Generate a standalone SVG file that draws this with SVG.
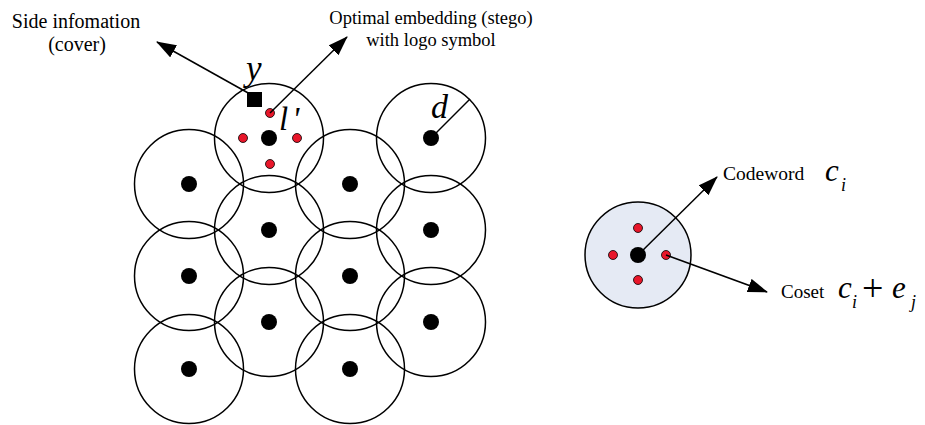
<svg xmlns="http://www.w3.org/2000/svg" width="925" height="425" viewBox="0 0 925 425">
  <style>
    .cell { fill: none; stroke: #000; stroke-width: 1.5; }
    .code { fill: #000; }
    .coset { fill: #e8162a; stroke: #000; stroke-width: 0.8; }
    .lbl { font-family: "Liberation Serif", "Times New Roman", serif; fill: #000; }
    .math { font-family: "Liberation Serif", "Times New Roman", serif; font-style: italic; fill: #000; }
    .up { font-family: "Liberation Serif", "Times New Roman", serif; fill: #000; }
    .conn { stroke: #000; stroke-width: 1.5; fill: none; }
  </style>
  <defs>
    <marker id="head" markerUnits="userSpaceOnUse" markerWidth="20" markerHeight="14" refX="19" refY="7" orient="auto">
      <path d="M0,0 L20,7 L0,14 z" fill="#000"/>
    </marker>
    <circle id="dot" r="8" class="code"/>
    <circle id="red" r="4.5" class="coset"/>
  </defs>
  <rect width="925" height="425" fill="#fff"/>

  <!-- lattice of decoding spheres -->
  <g id="c-0-0"><circle class="cell" cx="189" cy="184" r="54.5"/><use href="#dot" x="189" y="184"/></g>
  <g id="c-0-1"><circle class="cell" cx="189" cy="276" r="54.5"/><use href="#dot" x="189" y="276"/></g>
  <g id="c-0-2"><circle class="cell" cx="189" cy="369" r="54.5"/><use href="#dot" x="189" y="369"/></g>
  <g id="c-1-0">
    <circle class="cell" cx="269" cy="138" r="54.5"/>
    <use href="#dot" x="269" y="138"/>
    <use href="#red" x="270" y="113"/>
    <use href="#red" x="243" y="138"/>
    <use href="#red" x="297" y="138"/>
    <use href="#red" x="270" y="164"/>
  </g>
  <g id="c-1-1"><circle class="cell" cx="269" cy="230" r="54.5"/><use href="#dot" x="269" y="230"/></g>
  <g id="c-1-2"><circle class="cell" cx="269" cy="322" r="54.5"/><use href="#dot" x="269" y="322"/></g>
  <g id="c-2-0"><circle class="cell" cx="350" cy="184" r="54.5"/><use href="#dot" x="350" y="184"/></g>
  <g id="c-2-1"><circle class="cell" cx="350" cy="276" r="54.5"/><use href="#dot" x="350" y="276"/></g>
  <g id="c-2-2"><circle class="cell" cx="350" cy="369" r="54.5"/><use href="#dot" x="350" y="369"/></g>
  <g id="c-3-0"><circle class="cell" cx="431" cy="138" r="54.5"/><use href="#dot" x="431" y="138"/></g>
  <g id="c-3-1"><circle class="cell" cx="431" cy="230" r="54.5"/><use href="#dot" x="431" y="230"/></g>
  <g id="c-3-2"><circle class="cell" cx="431" cy="322" r="54.5"/><use href="#dot" x="431" y="322"/></g>

  <!-- cover point and symbols -->
  <g id="cover">
    <rect x="247" y="92" width="15" height="15" fill="#000"/>
    <text class="math" x="246" y="80" font-size="35">y</text>
  </g>
  <text id="lprime" class="math" x="279" y="130" font-size="33">l<tspan dx="4">'</tspan></text>
  <g id="radius">
    <line class="conn" x1="431" y1="138" x2="470" y2="99"/>
    <text class="math" x="431" y="118" font-size="34">d</text>
  </g>

  <!-- single coset sphere -->
  <g id="coset-sphere">
    <circle cx="638" cy="255" r="53" fill="#e5eaf4" stroke="#000" stroke-width="1.5"/>
    <use href="#dot" x="638" y="255"/>
    <use href="#red" x="638" y="228"/>
    <use href="#red" x="613" y="255"/>
    <use href="#red" x="666" y="255"/>
    <use href="#red" x="638" y="280"/>
  </g>

  <!-- connectors -->
  <g id="connectors">
    <line class="conn" x1="250" y1="94" x2="157" y2="42" marker-end="url(#head)"/>
    <line class="conn" x1="270" y1="113" x2="347" y2="37" marker-end="url(#head)"/>
    <line class="conn" x1="638" y1="255" x2="717" y2="177" marker-end="url(#head)"/>
    <line class="conn" x1="666" y1="255" x2="767" y2="292" marker-end="url(#head)"/>
  </g>

  <!-- labels -->
  <g id="label-side">
    <text class="lbl" x="76" y="28" font-size="20" text-anchor="middle">Side infomation</text>
    <text class="lbl" x="77" y="51" font-size="20" text-anchor="middle">(cover)</text>
  </g>
  <g id="label-stego">
    <text class="lbl" x="431" y="24" font-size="18.5" text-anchor="middle">Optimal embedding (stego)</text>
    <text class="lbl" x="431" y="46" font-size="18.5" text-anchor="middle">with logo symbol</text>
  </g>
  <g id="label-codeword">
    <text class="lbl" x="723" y="180" font-size="19.5">Codeword</text>
    <text class="math" x="825" y="181" font-size="31">c</text>
    <text class="math" x="841" y="191" font-size="18">i</text>
  </g>
  <g id="label-coset">
    <text class="lbl" x="781" y="298" font-size="19">Coset</text>
    <text class="math" x="838" y="298" font-size="31">c</text>
    <text class="math" x="852" y="308" font-size="18">i</text>
    <text class="up" x="862" y="301" font-size="38">+</text>
    <text class="math" x="892" y="298" font-size="31">e</text>
    <text class="math" x="911" y="308" font-size="18">j</text>
  </g>
</svg>
